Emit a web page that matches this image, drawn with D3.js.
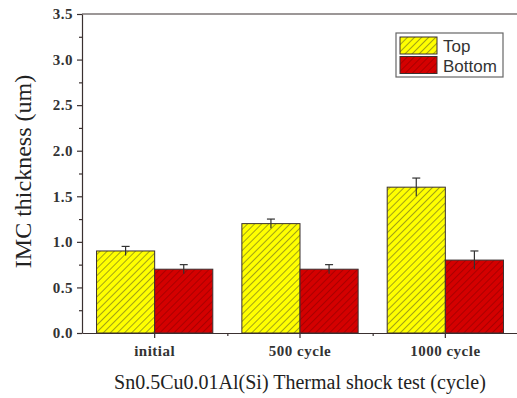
<!DOCTYPE html>
<html>
<head>
<meta charset="utf-8">
<script src="https://cdn.jsdelivr.net/npm/d3@7"></script>
<style>
  body { margin: 0; background: #fff; }
  svg { display: block; }
</style>
</head>
<body>
<div id="chart"></div>
<script>
// data
var categories = ["initial", "500 cycle", "1000 cycle"];
var seriesNames = ["Top", "Bottom"];
var topValues = [0.9, 1.2, 1.6];
var topErrors = [0.05, 0.05, 0.1];
var bottomValues = [0.7, 0.7, 0.8];
var bottomErrors = [0.05, 0.05, 0.1];
var yTicks = [0, 0.5, 1.0, 1.5, 2.0, 2.5, 3.0, 3.5];

var W = 517, H = 398;
var margin = {top: 14, right: -1, bottom: 65, left: 82};
var width = W - margin.left - margin.right;
var height = H - margin.top - margin.bottom;

var svg = d3.select("#chart").append("svg")
    .attr("width", W)
    .attr("height", H);

// hatch patterns
var defs = svg.append("defs");
function hatch(id, fill, stroke) {
    var p = defs.append("pattern")
        .attr("id", id)
        .attr("patternUnits", "userSpaceOnUse")
        .attr("width", 5).attr("height", 5)
        .attr("patternTransform", "rotate(45)");
    p.append("rect").attr("width", 5).attr("height", 5).attr("fill", fill);
    p.append("line").attr("x1", 0).attr("y1", 0).attr("x2", 0).attr("y2", 5)
        .attr("stroke", stroke).attr("stroke-width", 1.6);
}
hatch("hatchTop", "#ffff00", "#8a8a1a");
hatch("hatchBottom", "#d40000", "#a00000");

var main = svg.append("g")
    .attr("transform", "translate(" + margin.left + "," + margin.top + ")");

var x = d3.scaleBand().domain(categories).range([0, width]).padding(0);
var y = d3.scaleLinear().domain([0, 3.5]).range([height, 0]);
var barW = x.bandwidth() * 0.4;

var rows = categories.map(function (c, i) {
    return [
        {cat: c, s: 0, v: topValues[i], e: topErrors[i]},
        {cat: c, s: 1, v: bottomValues[i], e: bottomErrors[i]}
    ];
}).flat();

function barX(d) {
    var mid = x(d.cat) + x.bandwidth() / 2;
    return d.s === 0 ? mid - barW : mid;
}

// bars
main.selectAll("rect.bar")
    .data(rows)
    .enter().append("rect")
    .attr("class", "bar")
    .attr("x", barX)
    .attr("y", function (d) { return y(d.v); })
    .attr("width", barW)
    .attr("height", function (d) { return height - y(d.v); })
    .attr("fill", function (d) { return d.s === 0 ? "url(#hatchTop)" : "url(#hatchBottom)"; })
    .attr("stroke", "#3a3030")
    .attr("stroke-width", 1);

// error bars
var eb = main.selectAll("g.err").data(rows).enter().append("g")
    .attr("stroke", "#333").attr("stroke-width", 1.2);
eb.append("line")
    .attr("x1", function (d) { return barX(d) + barW / 2; })
    .attr("x2", function (d) { return barX(d) + barW / 2; })
    .attr("y1", function (d) { return y(d.v + d.e); })
    .attr("y2", function (d) { return y(d.v - d.e); });
eb.append("line")
    .attr("x1", function (d) { return barX(d) + barW / 2 - 4; })
    .attr("x2", function (d) { return barX(d) + barW / 2 + 4; })
    .attr("y1", function (d) { return y(d.v + d.e); })
    .attr("y2", function (d) { return y(d.v + d.e); });

// axes
var yMinor = d3.range(0.25, 3.5, 0.5);
var axisColor = "#3a3030";

main.append("g")
    .call(d3.axisLeft(y).tickValues(yTicks).tickFormat(d3.format(".1f")).tickSize(5).tickSizeOuter(0).tickPadding(4));
main.append("g")
    .call(d3.axisLeft(y).tickValues(yMinor).tickFormat("").tickSize(3).tickSizeOuter(0))
    .select(".domain").remove();

main.append("g")
    .attr("transform", "translate(" + width + ",0)")
    .call(d3.axisLeft(y).tickValues(yTicks).tickFormat("").tickSize(-5).tickSizeOuter(0));
main.append("g")
    .attr("transform", "translate(" + width + ",0)")
    .call(d3.axisLeft(y).tickValues(yMinor).tickFormat("").tickSize(-3).tickSizeOuter(0))
    .select(".domain").remove();

main.append("g")
    .attr("transform", "translate(0," + height + ")")
    .call(d3.axisBottom(x).tickSize(5).tickSizeOuter(0).tickPadding(7));
main.append("g")
    .attr("transform", "translate(0," + height + ")")
    .call(d3.axisBottom(d3.scaleLinear().domain([0, 3]).range([0, width]))
        .tickValues([1, 2]).tickFormat("").tickSize(3).tickSizeOuter(0))
    .select(".domain").remove();

main.append("line")
    .attr("x1", 0).attr("x2", width).attr("y1", 0).attr("y2", 0)
    .attr("stroke", axisColor).attr("stroke-width", 1.2);

main.selectAll(".domain, .tick line")
    .attr("stroke", axisColor).attr("stroke-width", 1.2);
main.selectAll(".tick text")
    .attr("fill", "#333")
    .style("font-family", "'Liberation Serif', 'Times New Roman', serif")
    .style("font-size", "15px")
    .style("letter-spacing", "0.5px")
    .style("font-weight", "bold");

// axis titles
svg.append("text")
    .attr("transform", "translate(31," + (margin.top + height / 2 - 2) + ") rotate(-90)")
    .attr("text-anchor", "middle")
    .style("font-family", "'Liberation Serif', 'Times New Roman', serif")
    .style("font-size", "24px")
    .attr("fill", "#222")
    .text("IMC thickness (um)");

svg.append("text")
    .attr("x", 300).attr("y", 389)
    .attr("text-anchor", "middle")
    .style("font-family", "'Liberation Serif', 'Times New Roman', serif")
    .style("font-size", "20px")
    .attr("fill", "#222")
    .text("Sn0.5Cu0.01Al(Si) Thermal shock test (cycle)");

// legend
var legend = svg.append("g").attr("transform", "translate(396,33)");
legend.append("rect")
    .attr("width", 107).attr("height", 44)
    .attr("fill", "#fff").attr("stroke", "#666").attr("stroke-width", 1.2);
var li = legend.selectAll("g.item").data(seriesNames).enter().append("g")
    .attr("transform", function (d, i) { return "translate(4," + (4 + i * 19.5) + ")"; });
li.append("rect")
    .attr("width", 37).attr("height", 17)
    .attr("fill", function (d, i) { return i === 0 ? "url(#hatchTop)" : "url(#hatchBottom)"; })
    .attr("stroke", "#3a3030");
li.append("text")
    .attr("x", 43).attr("y", 15)
    .style("font-family", "'Liberation Sans', Arial, sans-serif")
    .style("font-size", "17px")
    .attr("fill", "#333")
    .text(function (d) { return d; });
</script>
</body>
</html>
